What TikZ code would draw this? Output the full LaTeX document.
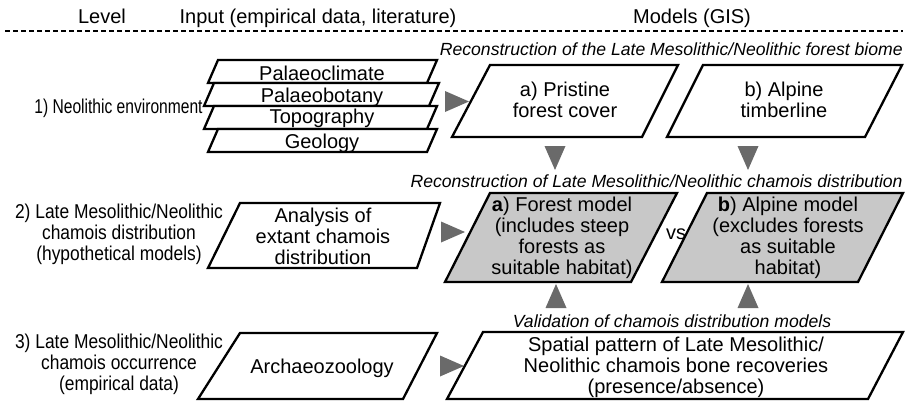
\documentclass[tikz,border=0pt]{standalone}
\usepackage{fontspec}
\setmainfont{Liberation Sans}
\newfontfamily\narrowsans[FakeStretch=0.78]{Liberation Sans}
\newfontfamily\semisans[FakeStretch=0.87]{Liberation Sans}
\usetikzlibrary{shapes.geometric}

\definecolor{boxgray}{HTML}{C8C8C8}
\definecolor{arrowgray}{HTML}{6A6A6A}

\begin{document}
\begin{tikzpicture}[x=0.5pt, y=-0.5pt,
  para/.style={draw, line width=1.15pt, fill=white},
  paragray/.style={para, fill=boxgray},
  txt/.style={align=center, inner sep=0pt, font=\fontsize{10}{10.5}\selectfont},
  lvl/.style={txt, font=\fontsize{10}{10.5}\semisans},
  caption/.style={inner sep=0pt, font=\fontsize{8.8}{10}\selectfont\itshape},
  tri/.style={isosceles triangle, isosceles triangle stretches, fill=arrowgray,
    inner sep=0pt, outer sep=0pt, minimum width=10.5pt, minimum height=12pt}]

\useasboundingbox (0,0) rectangle (908,402);

% Header
\node[txt, anchor=base] (hlevel) at (102,23) {Level};
\node[txt, anchor=base] (hinput) at (318,23) {Input (empirical data, literature)};
\node[txt, anchor=base] (hmodels) at (692,23) {Models (GIS)};
\draw[line width=1pt, dash pattern=on 2.5pt off 1.5pt] (5,31) -- (903,31);

% Level 1: input stack
\node[txt, font=\fontsize{10}{10.5}\narrowsans, anchor=base east] (lvlone) at (203,113)
  {1) Neolithic environment};
\draw[para] (218,60) -- (437,60) -- (427,83) -- (208,83) -- cycle;
\node[txt, anchor=base] (clim) at (322,80) {Palaeoclimate};
\draw[para] (214,83) -- (439,83) -- (429,106) -- (204,106) -- cycle;
\node[txt, anchor=base] (botany) at (322,102) {Palaeobotany};
\draw[para] (214,106) -- (437,106) -- (427,129) -- (204,129) -- cycle;
\node[txt, anchor=base] (topo) at (322,123) {Topography};
\draw[para] (218,129) -- (437,129) -- (427,152) -- (208,152) -- cycle;
\node[txt, anchor=base] (geo) at (322,148) {Geology};

% Level 1: forest biome models
\node[caption, anchor=base east] (capbiome) at (903,55)
  {Reconstruction of the Late Mesolithic/Neolithic forest biome};
\draw[para] (490,65) -- (678,65) -- (642,137) -- (452,137) -- cycle;
\node[txt] (forest) at (565,100) {a) Pristine\\forest cover};
\draw[para] (703,65) -- (902,65) -- (865,137) -- (667,137) -- cycle;
\node[txt] (timber) at (784,100) {b) Alpine\\timberline};

\node[tri, anchor=lower side] (arrone) at (445,101.5) {};
\node[tri, rotate=-90, anchor=lower side] (arrforest) at (555,146) {};
\node[tri, rotate=-90, anchor=lower side] (arrtimber) at (748,146) {};

% Level 2: chamois distribution models
\node[caption, anchor=base east] (capdist) at (903,187)
  {Reconstruction of Late Mesolithic/Neolithic chamois distribution};
\node[lvl] (lvltwo) at (119,234)
  {2) Late Mesolithic/Neolithic\\chamois distribution\\(hypothetical models)};
\draw[para] (240,203) -- (440,203) -- (417,268) -- (208,268) -- cycle;
\node[txt] (extant) at (323,236) {Analysis of\\extant chamois\\distribution};
\node[tri, anchor=lower side] (arrtwo) at (441,232) {};

\draw[paragray] (490,193) -- (677,193) -- (631,282) -- (445,282) -- cycle;
\node[txt] (forestmod) at (562,238)
  {\textbf{a}) Forest model\\(includes steep\\forests as\\suitable habitat)};
\node[txt] (vs) at (676,234) {vs};
\draw[paragray] (707,193) -- (903,193) -- (858,282) -- (662,282) -- cycle;
\node[txt] (alpinemod) at (788,238)
  {\textbf{b}) Alpine model\\(excludes forests\\as suitable\\habitat)};

\node[tri, rotate=90, anchor=lower side] (arrvalfor) at (556,308) {};
\node[tri, rotate=90, anchor=lower side] (arrvalalp) at (748,308) {};

% Level 3: chamois occurrence
\node[caption, anchor=base] (capvalid) at (672,327)
  {Validation of chamois distribution models};
\node[lvl] (lvlthree) at (119,364)
  {3) Late Mesolithic/Neolithic\\chamois occurrence\\(empirical data)};
\draw[para] (240,333) -- (437,333) -- (403,399) -- (198,399) -- cycle;
\node[txt] (archzoo) at (322,368) {Archaeozoology};
\node[tri, anchor=lower side] (arrthree) at (440,366) {};
\draw[para] (483,332) -- (903,332) -- (868,399) -- (447,399) -- cycle;
\node[txt] (bones) at (676,367)
  {Spatial pattern of Late Mesolithic/\\Neolithic chamois bone recoveries\\(presence/absence)};

\end{tikzpicture}
\end{document}
